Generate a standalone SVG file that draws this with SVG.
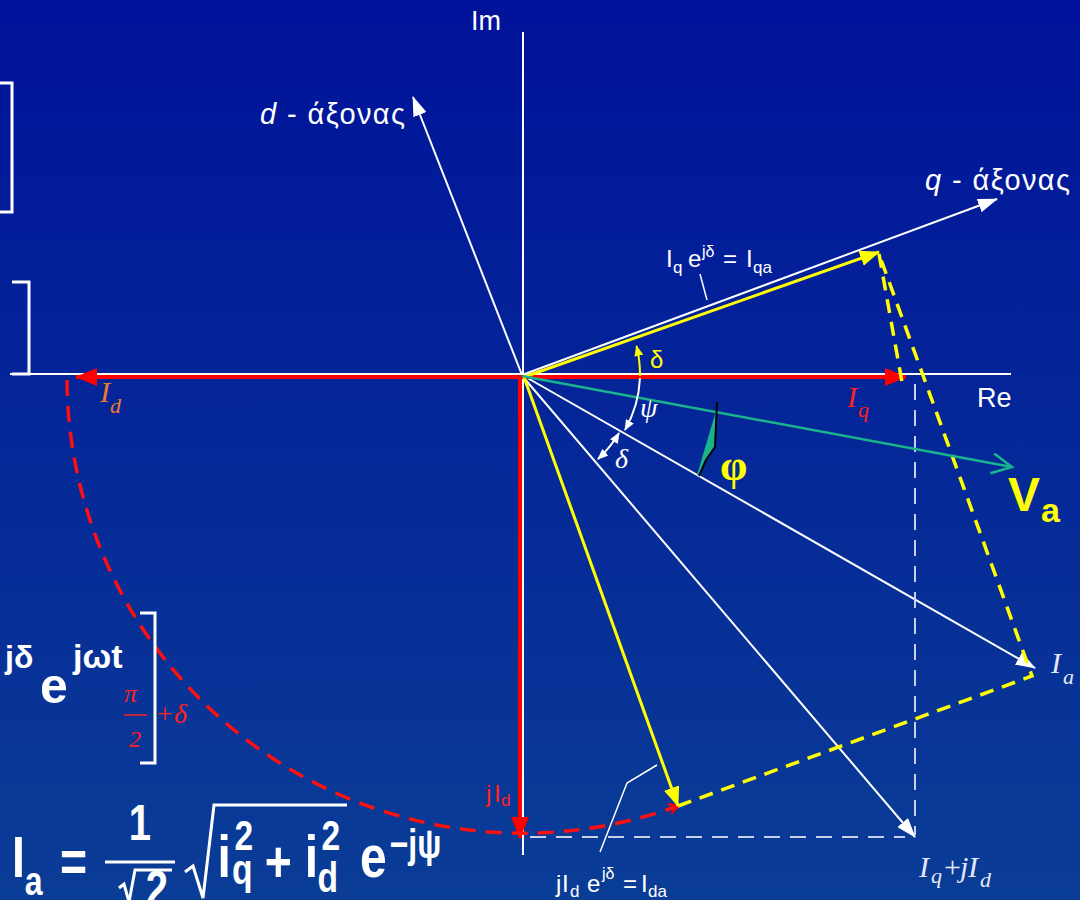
<svg xmlns="http://www.w3.org/2000/svg" width="1080" height="900" viewBox="0 0 1080 900">
<defs>
<linearGradient id="bg" x1="0" y1="0" x2="0" y2="1">
<stop offset="0" stop-color="#00129a"/>
<stop offset="1" stop-color="#0a3d96"/>
</linearGradient>
<marker id="aw" markerWidth="20" markerHeight="14" refX="19" refY="7" orient="auto" markerUnits="userSpaceOnUse"><path d="M0,0 L20,7 L0,14 z" fill="#ffffff"/></marker>
<marker id="ar" markerWidth="22" markerHeight="18" refX="21" refY="9" orient="auto" markerUnits="userSpaceOnUse"><path d="M0,0 L22,9 L0,18 z" fill="#ff0000"/></marker>
<marker id="ay" markerWidth="20" markerHeight="16" refX="19" refY="8" orient="auto" markerUnits="userSpaceOnUse"><path d="M0,0 L20,8 L0,16 z" fill="#ffff00"/></marker>
<marker id="aws" markerWidth="11" markerHeight="9" refX="10" refY="4.5" orient="auto" markerUnits="userSpaceOnUse"><path d="M0,0 L11,4.5 L0,9 z" fill="#ffffff"/></marker>
<marker id="awss" markerWidth="11" markerHeight="9" refX="1" refY="4.5" orient="auto" markerUnits="userSpaceOnUse"><path d="M11,0 L0,4.5 L11,9 z" fill="#ffffff"/></marker>
<marker id="ays" markerWidth="11" markerHeight="9" refX="10" refY="4.5" orient="auto" markerUnits="userSpaceOnUse"><path d="M0,0 L11,4.5 L0,9 z" fill="#ffff00"/></marker>
<marker id="ag" markerWidth="24" markerHeight="24" refX="21" refY="11" orient="auto" markerUnits="userSpaceOnUse"><path d="M1,1 L21,11 L1,21" fill="none" stroke="#19b48c" stroke-width="2.5"/></marker>
<marker id="aro" markerWidth="12" markerHeight="12" refX="10" refY="6" orient="auto" markerUnits="userSpaceOnUse"><path d="M1,1 L10,6 L1,11" fill="none" stroke="#ff0000" stroke-width="2.5"/></marker>
<style>
.w{stroke:#ffffff;stroke-width:2;fill:none}
.wd{stroke:#c8d0ea;stroke-width:2;fill:none;stroke-dasharray:16 10}
.r{stroke:#ff0000;stroke-width:4;fill:none}
.rd{stroke:#ff1010;stroke-width:3.5;fill:none;stroke-dasharray:16 10}
.y{stroke:#ffff00;stroke-width:3;fill:none}
.yd{stroke:#ffff00;stroke-width:3.5;fill:none;stroke-dasharray:14 9}
.g{stroke:#19b48c;stroke-width:2.5;fill:none}
.br{stroke:#ffffff;stroke-width:3;fill:none}
.sans{font-family:"Liberation Sans",Arial,sans-serif}
.ser{font-family:"Liberation Serif","Times New Roman",serif;font-style:italic}
.fb{font-family:"Liberation Sans",Arial,sans-serif;font-weight:bold;fill:#ffffff}
</style>
</defs>
<rect x="0" y="0" width="1080" height="900" fill="url(#bg)"/>

<g id="connectors">
<line class="w" x1="523" y1="32" x2="523" y2="855"/>
<line class="w" x1="10" y1="374" x2="1011" y2="374"/>
<line class="w" x1="522" y1="375" x2="413" y2="97" marker-end="url(#aw)"/>
<line class="w" x1="522" y1="375" x2="997" y2="199" marker-end="url(#aw)"/>
<line class="w" x1="524" y1="376" x2="1035" y2="668" marker-end="url(#aw)"/>
<line class="w" x1="524" y1="378" x2="915" y2="837" marker-end="url(#aw)"/>
<line class="wd" x1="915" y1="384" x2="915" y2="835"/>
<line class="wd" x1="530" y1="837" x2="905" y2="837"/>
<line class="r" x1="522" y1="377" x2="76" y2="377" marker-end="url(#ar)"/>
<line class="r" x1="522" y1="377" x2="906" y2="377" marker-end="url(#ar)"/>
<line class="r" x1="520" y1="377" x2="520" y2="838" marker-end="url(#ar)"/>
<path class="rd" d="M67,380 A456,456 0 0 0 678,806" marker-end="url(#aro)"/>
<line class="y" x1="524" y1="377" x2="879" y2="252" marker-end="url(#ay)"/>
<line class="y" x1="524" y1="377" x2="678" y2="806" marker-end="url(#ay)"/>
<polyline class="yd" points="678,806 1032,676 879,254"/>
<line class="yd" x1="879" y1="254" x2="902" y2="382"/>
<line class="g" x1="522" y1="376" x2="1012" y2="467" marker-end="url(#ag)"/>
<path d="M640,376 A118,118 0 0 0 636.5,346" fill="none" stroke="#ffff00" stroke-width="2" marker-end="url(#ays)"/>
<path d="M640,378 A117,117 0 0 1 625,430" fill="none" stroke="#ffffff" stroke-width="2" marker-end="url(#aws)"/>
<path d="M619,433 A113,113 0 0 1 598,459" fill="none" stroke="#ffffff" stroke-width="2" marker-start="url(#awss)" marker-end="url(#aws)"/>
<polyline points="700,274 707,300" fill="none" stroke="#ffffff" stroke-width="1.5"/>
<polyline points="600,852 627,783 657,765" fill="none" stroke="#ffffff" stroke-width="1.5"/>
</g>

<g id="phi-marker">
<polygon points="716,411 715,447 706,460 699,475 697,475" fill="#19b48c"/>
<polyline points="717,402 715,447 706,460 699,476" fill="none" stroke="#000000" stroke-width="2"/>
</g>

<g id="brackets">
<polyline class="br" points="0,83 12,83 12,212 0,212"/>
<polyline class="br" points="12,282 29,282 29,374 12,374"/>
<polyline class="br" points="140,613 155,613 155,763 140,763"/>
</g>

<g id="labels">
<text class="sans" x="471" y="30" font-size="27" fill="#ffffff">Im</text>
<text class="sans" x="260" y="124" font-size="29" fill="#ffffff" textLength="145" lengthAdjust="spacing"><tspan font-style="italic">d</tspan> - άξονας</text>
<text class="sans" x="925" y="190" font-size="29" fill="#ffffff" textLength="145" lengthAdjust="spacing"><tspan font-style="italic">q</tspan> - άξονας</text>
<text class="sans" x="977" y="407" font-size="27" fill="#ffffff">Re</text>
<text class="sans" font-size="24" fill="#ffffff"><tspan x="666" y="267">I</tspan><tspan x="673" y="273" font-size="17">q</tspan><tspan x="688" y="267">e</tspan><tspan x="702" y="257" font-size="16">jδ</tspan><tspan x="723" y="267">=</tspan><tspan x="746" y="267">I</tspan><tspan x="753" y="273" font-size="17">qa</tspan></text>
<text class="sans" font-size="24" fill="#ffffff"><tspan x="556" y="892">j</tspan><tspan x="562" y="892">I</tspan><tspan x="570" y="897" font-size="17">d</tspan><tspan x="587" y="892">e</tspan><tspan x="602" y="879" font-size="16">jδ</tspan><tspan x="623" y="892">=</tspan><tspan x="641" y="892">I</tspan><tspan x="648" y="897" font-size="17">da</tspan></text>
<text class="sans" font-size="24" fill="#ff2020"><tspan x="486" y="802">j</tspan><tspan x="494" y="802">I</tspan><tspan x="501" y="806" font-size="17">d</tspan></text>
<text class="ser" font-size="30" fill="#f07a2a"><tspan x="100" y="402">I</tspan><tspan x="110" y="413" font-size="22">d</tspan></text>
<text class="ser" font-size="30" fill="#ff2020"><tspan x="847" y="407">I</tspan><tspan x="858" y="417" font-size="22">q</tspan></text>
<text class="ser" font-size="30" fill="#e4e8f6"><tspan x="1051" y="673">I</tspan><tspan x="1063" y="684" font-size="22">a</tspan></text>
<text class="ser" font-size="30" fill="#e4e8f6"><tspan x="919" y="877">I</tspan><tspan x="931" y="883" font-size="22">q</tspan><tspan x="944" y="877" font-style="normal">+</tspan><tspan x="960" y="877">j</tspan><tspan x="968" y="877">I</tspan><tspan x="980" y="887" font-size="22">d</tspan></text>
<text class="ser" x="640" y="417" font-size="28" fill="#ffffff">ψ</text>
<text class="ser" x="615" y="468" font-size="28" fill="#ffffff">δ</text>
<text class="sans" x="650" y="368" font-size="24" fill="#ffff00">δ</text>
<text x="720" y="480" font-size="44" font-weight="bold" fill="#ffff00" font-family="Liberation Serif,serif">φ</text>
<text class="fb" style="fill:#ffff00"><tspan x="1008" y="511" font-size="48">V</tspan><tspan x="1041" y="522" font-size="34">a</tspan></text>
</g>

<g id="formula-left">
<text class="fb" x="5" y="668" font-size="32">jδ</text>
<text class="fb" x="40" y="703" font-size="50">e</text>
<text class="fb" x="73" y="668" font-size="34">jωt</text>
<text class="ser" x="124" y="702" font-size="26" fill="#ff2020">π</text>
<line x1="124" y1="715" x2="147" y2="715" stroke="#ff2020" stroke-width="1.5"/>
<text class="ser" x="129" y="747" font-size="24" fill="#ff2020" font-style="normal">2</text>
<text class="ser" x="155" y="723" font-size="28" fill="#ff2020">+δ</text>
</g>

<g id="formula-bottom">
<g transform="scale(0.8,1)">
<text class="fb" x="15" y="877" font-size="58">I</text>
<text class="fb" x="31" y="895" font-size="40">a</text>
<text class="fb" x="75" y="881" font-size="58">=</text>
<text class="fb" x="175" y="840" font-size="50" text-anchor="middle">1</text>
<text class="fb" x="196" y="906" font-size="50" text-anchor="middle">2</text>
<text class="fb" x="272" y="877" font-size="60">i</text>
<text class="fb" x="293" y="850" font-size="42">2</text>
<text class="fb" x="290" y="884" font-size="42">q</text>
<text class="fb" x="331" y="882" font-size="58">+</text>
<text class="fb" x="381" y="877" font-size="60">i</text>
<text class="fb" x="402" y="850" font-size="42">2</text>
<text class="fb" x="397" y="892" font-size="42">d</text>
<text class="fb" x="450" y="877" font-size="60">e</text>
<text class="fb" x="487" y="858" font-size="40">−jψ</text>
</g>
<line x1="105" y1="862" x2="175" y2="862" stroke="#ffffff" stroke-width="3"/>
<polyline points="119,888 124,884 129,902 135,870 172,870" fill="none" stroke="#ffffff" stroke-width="3"/>
<polyline points="185,872 193,866 203,898 214,805 347,805" fill="none" stroke="#ffffff" stroke-width="3"/>
</g>
</svg>
